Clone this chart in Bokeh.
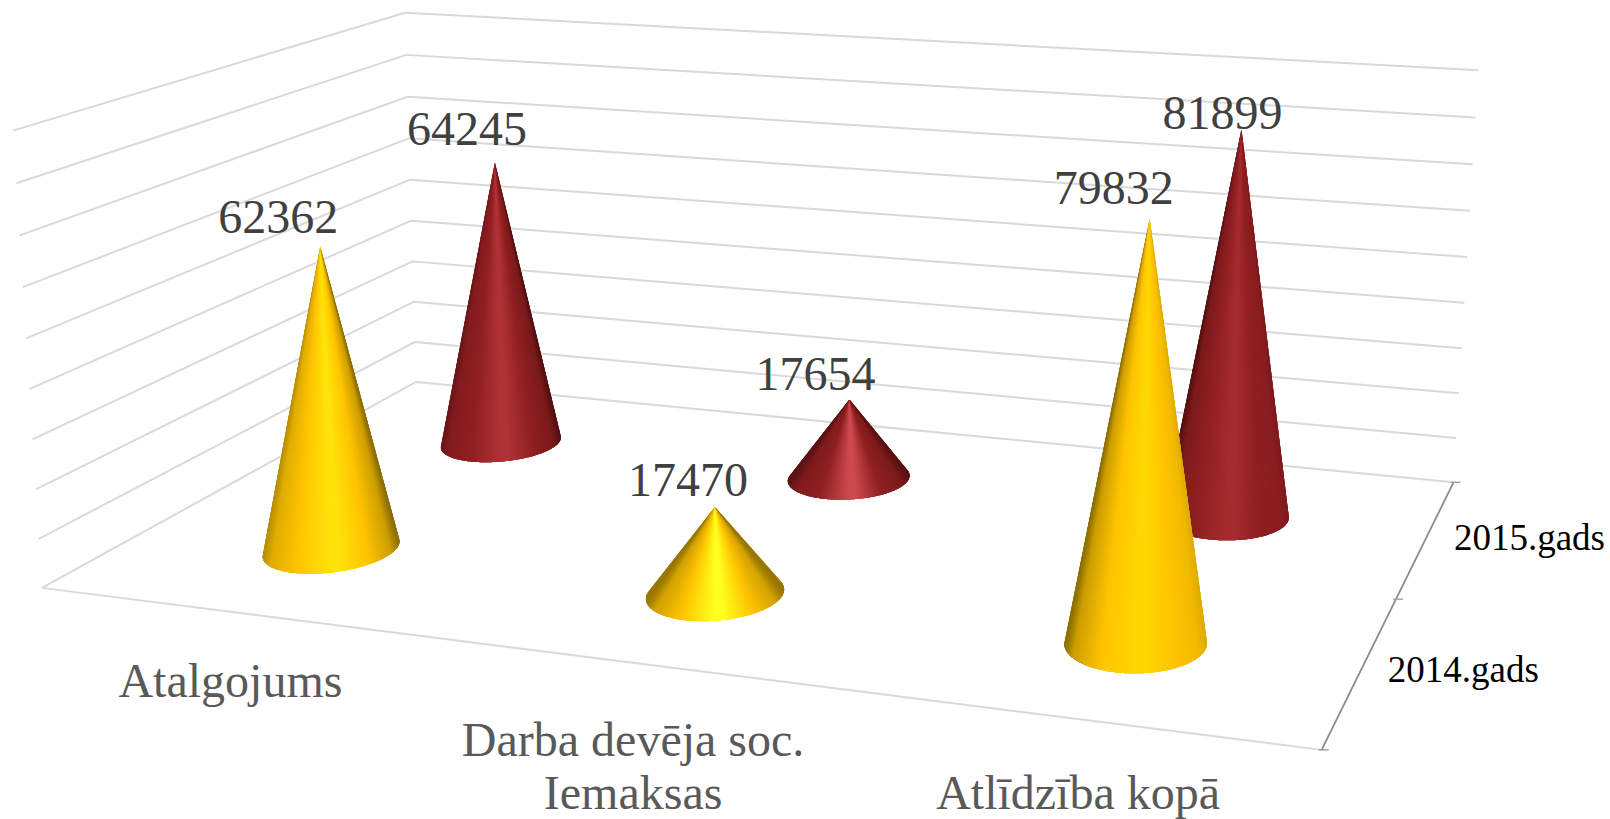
import numpy as np
from bokeh.plotting import figure
from bokeh.models import Range1d
from bokeh.core.properties import value
from bokeh.embed import file_html
from bokeh.resources import INLINE

# ---- data ----
categories = ["Atalgojums", "Darba devēja soc.\nIemaksas", "Atlīdzība kopā"]
series_names = ["2014.gads", "2015.gads"]
values_2014 = [62362, 17470, 79832]
values_2015 = [64245, 17654, 81899]
axis_max = 90000
axis_step = 10000

# ---- layout / style ----
W, H = 1610, 819
FONT = "Liberation Serif"
# calibration of the 3D box: (category, series, value fraction) -> page pixel
CAL_WORLD = [(0, 0, 0), (0, 2, 0), (3, 2, 0), (3, 0, 0), (0, 0, 1), (0, 2, 1), (3, 2, 1)]
CAL_PIXEL = [(41, 587), (416, 382), (1453, 481), (1321, 750), (13, 130), (404, 12), (1478, 70)]
R_CAT, R_SER = 0.155, 0.20
LABEL_DX = [[-42, -27, -36], [-28, -34, -19]]
LABEL_GAP = [[30, 27, 31], [34, 26, 16]]
CAT_OFFSET = [(0, 69), (-2, 77), (-3, 73)]
SER_OFFSET = [(102, 0), (103, 0)]
# how dark the (left, right) edge of a cone gets, per category
EDGE_WEIGHT = [(0.55, 0.9), (0.8, 0.8), (0.9, 0.25)]


def solve_camera(world, pixel):
    rows, rhs = [], []
    for (a, b, c), (u, v) in zip(world, pixel):
        rows.append([a, b, c, 1, 0, 0, 0, 0, -u * a, -u * b, -u * c])
        rhs.append(u)
        rows.append([0, 0, 0, 0, a, b, c, 1, -v * a, -v * b, -v * c])
        rhs.append(v)
    sol = np.linalg.lstsq(np.array(rows, float), np.array(rhs, float), rcond=None)[0]
    return np.append(sol, 1.0).reshape(3, 4)


CAM = solve_camera(CAL_WORLD, CAL_PIXEL)


def project(c, s, v):
    c, s, v = np.broadcast_arrays(np.asarray(c, float), np.asarray(s, float), np.asarray(v, float) / axis_max)
    pts = np.stack([c, s, v, np.ones_like(c)], axis=-1) @ CAM.T
    return pts[..., 0] / pts[..., 2], pts[..., 1] / pts[..., 2]


def hex2rgb(h):
    return np.array([int(h[i:i + 2], 16) for i in (1, 3, 5)], float)


def rgb2hex(r):
    return "#%02x%02x%02x" % tuple(int(round(x)) for x in r)


def mix(a, b, t):
    return rgb2hex(hex2rgb(a) * (1 - t) + hex2rgb(b) * t)


def shade(u, edge, mid, base, hi, kl, kr):
    pos = [-1.0, -0.88, -0.5, 0.0, 0.12, 0.55, 0.88, 1.0]
    cols = [mix(base, edge, kl), mix(base, mid, kl), base, hi, hi, base, mix(base, mid, kr), mix(base, edge, kr)]
    cols = np.array([hex2rgb(x) for x in cols])
    return rgb2hex([np.interp(u, pos, cols[:, k]) for k in range(3)])


p = figure(width=W, height=H, x_range=Range1d(0, W), y_range=Range1d(H, 0),
           output_backend="svg", toolbar_location=None, min_border=0)
p.xaxis.visible = False
p.yaxis.visible = False
p.grid.visible = False
p.outline_line_color = None

GRID = "#d9d9d9"
n_cat = len(categories)
n_ser = len(series_names)

# walls: left wall + back wall polyline at every value step
for v in range(0, axis_max + 1, axis_step):
    x, y = project([0, 0, n_cat], [0, n_ser, n_ser], v)
    p.line(x, y, line_color=GRID, line_width=2)
# front edge of the floor
x, y = project([0, n_cat], [0, 0], 0)
p.line(x, y, line_color=GRID, line_width=2)

# series axis with its ticks
x, y = project([n_cat, n_cat], [0, n_ser], 0)
p.line(x, y, line_color="#8c8c8c", line_width=1.8)
for s in range(n_ser + 1):
    x0, y0 = project(n_cat, s, 0)
    p.line([x0 - 3, x0 + 7], [y0, y0], line_color="#a0a0a0", line_width=1.4)


def cone(cat, ser, val, edge, mid, base, hi):
    th = np.linspace(0, 2 * np.pi, 361)[:-1]
    bx, by = project(cat + 0.5 + R_CAT * np.cos(th), ser + 0.5 + R_SER * np.sin(th), 0)
    tx, ty = project(cat + 0.5, ser + 0.5, val)
    ang = np.arctan2(bx - tx, by - ty)
    il, ir = int(np.argmin(ang)), int(np.argmax(ang))
    ib = int(np.argmax(by))
    n = len(th)
    # walk from left tangent to right tangent through the lowest point
    step = 1 if (ib - il) % n < (ir - il) % n else -1
    idx = [il]
    while idx[-1] != ir:
        idx.append((idx[-1] + step) % n)
    bx, by = bx[idx], by[idx]
    xc, xr = (bx.min() + bx.max()) / 2, (bx.max() - bx.min()) / 2
    kl, kr = EDGE_WEIGHT[cat]
    xs, ys, cols = [], [], []
    # overlapping fans painted left to right, so no seam shows the page through
    for i in range(0, len(idx) - 1, 2):
        j = min(i + 8, len(idx) - 1)
        u = ((bx[i] + bx[min(i + 2, j)]) / 2 - xc) / xr
        xs.append([float(tx)] + [float(q) for q in bx[i:j + 1]])
        ys.append([float(ty)] + [float(q) for q in by[i:j + 1]])
        cols.append(shade(u, edge, mid, base, hi, kl, kr))
    p.patches(xs, ys, fill_color=cols, line_color=None)
    return float(tx), float(ty)


tips = {}
# back row first, so the front row covers it
for cat in range(n_cat):
    t = values_2015[cat] / axis_max
    hi = mix("#cc4a4d", "#a42b2e", min(1, (t - 0.2) / 0.7))
    tips[(1, cat)] = cone(cat, 1, values_2015[cat], "#4e0f0f", "#7a1a1b", "#8f1f21", hi)
for cat in range(n_cat):
    t = values_2014[cat] / axis_max
    hi = mix("#ffff1e", "#ffd600", min(1, (t - 0.2) / 0.7))
    tips[(0, cat)] = cone(cat, 0, values_2014[cat], "#7d6300", "#c79a00", "#ffc400", hi)

# data labels
for ser, vals in enumerate([values_2014, values_2015]):
    for cat, val in enumerate(vals):
        tx, ty = tips[(ser, cat)]
        p.text([tx + LABEL_DX[ser][cat]], [ty - LABEL_GAP[ser][cat]], text=[str(val)], text_font=value(FONT),
               text_font_size="48px", text_color="#404040", text_align="center",
               text_baseline="alphabetic")

# category labels
for cat, name in enumerate(categories):
    x0, y0 = project(cat + 0.5, 0, 0)
    dx, dy = CAT_OFFSET[cat]
    for i, line in enumerate(name.split("\n")):
        p.text([float(x0) + dx], [float(y0) + dy + i * 53], text=[line], text_font=value(FONT),
               text_font_size="48px", text_color="#595959", text_align="center",
               text_baseline="middle")

# series labels
for ser, name in enumerate(series_names):
    x0, y0 = project(n_cat, ser + 0.5, 0)
    dx, dy = SER_OFFSET[ser]
    p.text([float(x0) + dx], [float(y0) + dy], text=[name], text_font=value(FONT),
           text_font_size="37px", text_color="#000000", text_align="center", text_baseline="middle")

open("out.html", "w").write(file_html(p, INLINE))
